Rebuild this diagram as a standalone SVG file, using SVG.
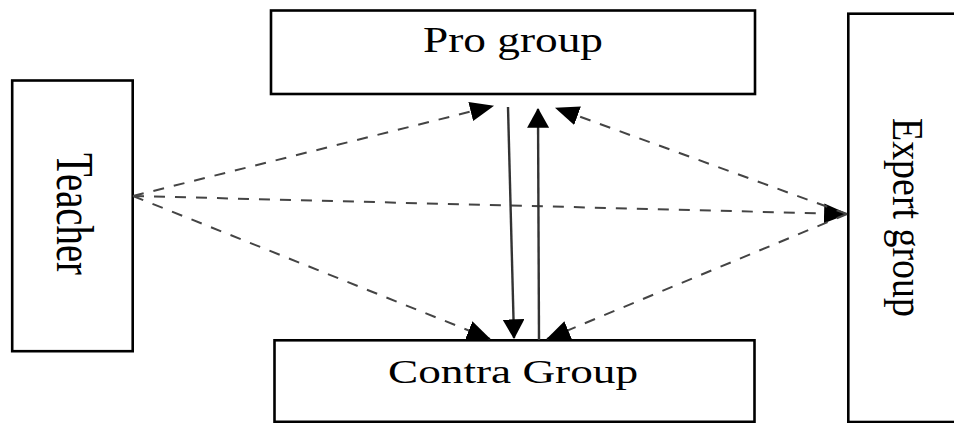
<svg xmlns="http://www.w3.org/2000/svg" width="954" height="423" viewBox="0 0 954 423">
<style>
.box{fill:#fff;stroke:#000;stroke-width:2.6}
.lbl{font-family:"Liberation Serif","DejaVu Serif",serif;fill:#000}
.dash{fill:none;stroke:#444;stroke-width:2;stroke-dasharray:11 10}
.solid{fill:none;stroke:#333;stroke-width:2.4}
</style>
<defs>
<marker id="ah" markerUnits="userSpaceOnUse" markerWidth="24" markerHeight="24" viewBox="0 0 22 20" refX="21" refY="10" orient="auto">
<path d="M0,1 L22,10 L0,19 Z" fill="#000"/>
</marker>
<marker id="ahs" markerUnits="userSpaceOnUse" markerWidth="22" markerHeight="22" viewBox="0 0 18 20" refX="17" refY="10" orient="auto">
<path d="M0,0 L18,10 L0,20 Z" fill="#000"/>
</marker>
</defs>
<g id="teacher">
<rect class="box" x="12.2" y="80.5" width="120.5" height="270.7"/>
<text class="lbl" font-size="40" textLength="122" lengthAdjust="spacingAndGlyphs" transform="translate(57,153) scale(1.3,1) rotate(90)">Teacher</text>
</g>
<g id="pro">
<rect class="box" x="271" y="10.5" width="484" height="83.5"/>
<text class="lbl" font-size="35" x="423" y="52" textLength="180" lengthAdjust="spacingAndGlyphs">Pro group</text>
</g>
<g id="contra">
<rect class="box" x="274.5" y="340.3" width="480" height="81.5"/>
<text class="lbl" font-size="33" x="388" y="383" textLength="250" lengthAdjust="spacingAndGlyphs">Contra Group</text>
</g>
<g id="expert">
<rect class="box" x="848.3" y="13.7" width="120" height="408.3"/>
<text class="lbl" font-size="34" textLength="199" lengthAdjust="spacingAndGlyphs" transform="translate(893,118) scale(1.3,1) rotate(90)">Expert group</text>
</g>
<g id="connectors">
<path class="dash" d="M133,196 L493,106" marker-end="url(#ah)"/>
<path class="dash" d="M133,196 L490,339" marker-end="url(#ah)"/>
<path class="dash" d="M133,196 L847,214" marker-end="url(#ah)"/>
<path class="dash" d="M847,214 L556,108" marker-end="url(#ah)"/>
<path class="dash" d="M847,214 L547,339" marker-end="url(#ah)"/>
<path class="solid" d="M508,107 L514,338" marker-end="url(#ahs)"/>
<path class="solid" d="M539,340 L538,109" marker-end="url(#ahs)"/>
</g>
</svg>
